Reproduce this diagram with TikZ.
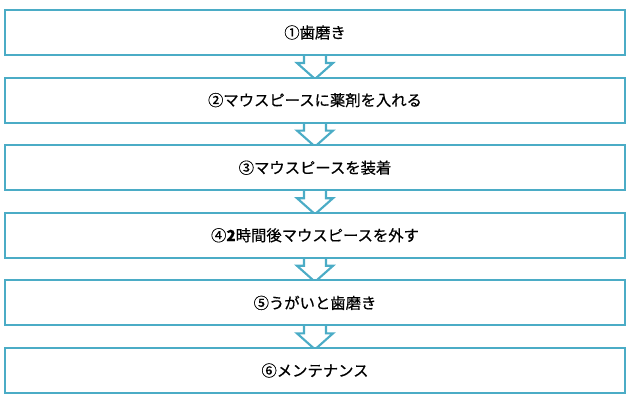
\documentclass[tikz,border=0pt]{standalone}
\usepackage{fontspec}
\newfontfamily\jp[FakeBold=0.6]{Noto Sans CJK JP}
\usetikzlibrary{positioning}
\definecolor{stepblue}{HTML}{4BACC6}
\begin{document}
\begin{tikzpicture}[x=0.75pt,y=-0.75pt,
    step box/.style={draw=stepblue, line width=1.6pt, fill=white, minimum width=465pt,
        minimum height=33.75pt, inner sep=0pt, outer sep=0pt, font=\jp\fontsize{11.5}{12}\selectfont},
    down arrow/.style={draw=stepblue, line width=1.6pt, fill=white, line join=miter},]
    \useasboundingbox (0,0) rectangle (631,402);

    \pgfmathsetmacro{\pitch}{67.6}

    % arrows first, boxes cover the shafts
    \foreach \i in {1,...,5}{
        \pgfmathsetmacro{\yb}{55+(\i-1)*\pitch}
        \draw[style=down arrow] (304,\yb-5) -- (304,\yb+8) -- (297,\yb+8)
            -- (315,\yb+24) -- (333,\yb+8) -- (326,\yb+8) -- (326,\yb-5) -- cycle;
    }

    \node[step box] (b1) at (315,32.5) {①歯磨き};
    \node[step box, below=16.95pt of b1] (b2) {②マウスピースに薬剤を入れる};
    \node[step box, below=16.95pt of b2] (b3) {③マウスピースを装着};
    \node[step box, below=16.95pt of b3] (b4) {④\textbf{2}時間後マウスピースを外す};
    \node[step box, below=16.95pt of b4] (b5) {⑤うがいと歯磨き};
    \node[step box, below=16.95pt of b5] (b6) {⑥メンテナンス};

\end{tikzpicture}
\end{document}
